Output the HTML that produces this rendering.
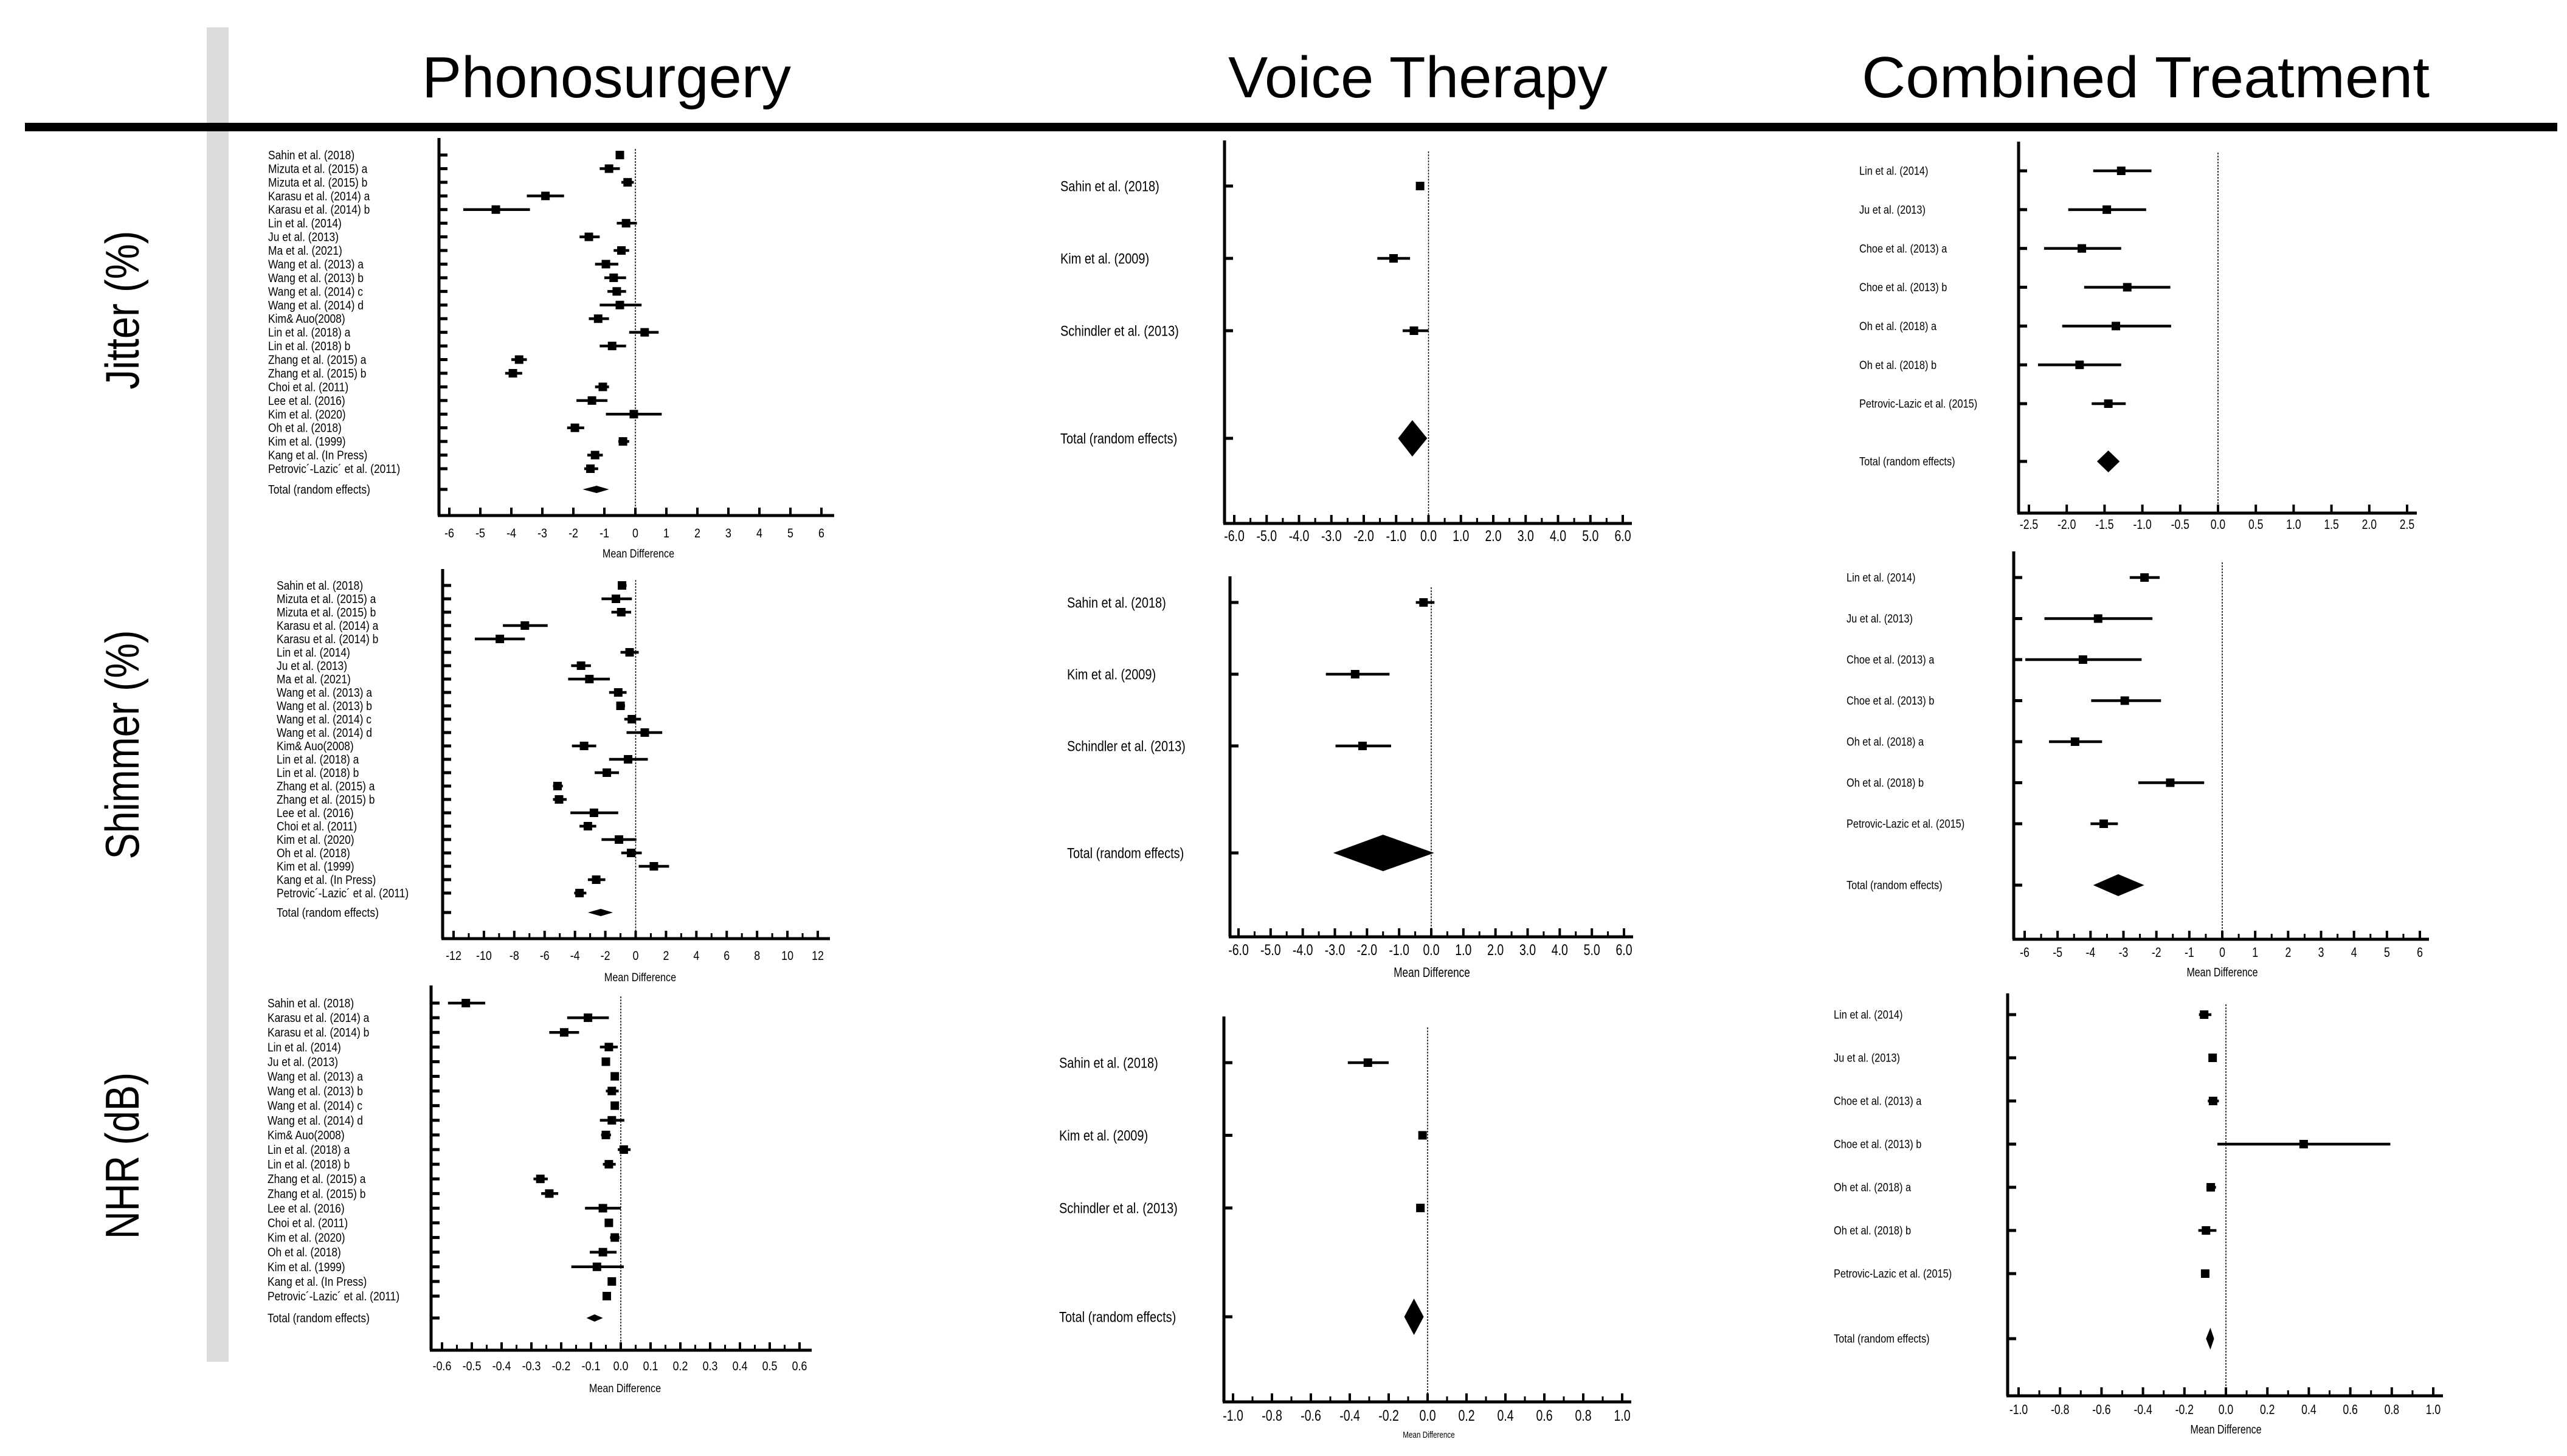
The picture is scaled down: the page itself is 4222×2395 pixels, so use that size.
<!DOCTYPE html>
<html><head><meta charset="utf-8"><style>
html,body{margin:0;padding:0;background:#fff;}
svg{display:block;}
</style></head><body>
<svg id="fig" width="4222" height="2395" viewBox="0 0 4222 2395" xmlns="http://www.w3.org/2000/svg" font-family="'Liberation Sans', sans-serif">
<rect x="340" y="45" width="36" height="2195" fill="#dcdcdc"/>
<rect x="41" y="202" width="4165" height="14" fill="#000"/>
<text x="694" y="160" font-size="96" textLength="607" lengthAdjust="spacingAndGlyphs">Phonosurgery</text>
<text x="2020" y="160" font-size="96" textLength="624" lengthAdjust="spacingAndGlyphs">Voice Therapy</text>
<text x="3062" y="160" font-size="96" textLength="934" lengthAdjust="spacingAndGlyphs">Combined Treatment</text>
<text transform="translate(228,510) rotate(-90)" text-anchor="middle" font-size="78" textLength="261" lengthAdjust="spacingAndGlyphs">Jitter (%)</text>
<text transform="translate(228,1225) rotate(-90)" text-anchor="middle" font-size="78" textLength="377" lengthAdjust="spacingAndGlyphs">Shimmer (%)</text>
<text transform="translate(228,1901) rotate(-90)" text-anchor="middle" font-size="78" textLength="274" lengthAdjust="spacingAndGlyphs">NHR (dB)</text>
<g id="panels"></g>
</svg>
<script>
// ---------- Data ----------
const phonoLabelsA = ["Sahin et al. (2018)","Mizuta et al. (2015) a","Mizuta et al. (2015) b","Karasu et al. (2014) a","Karasu et al. (2014) b","Lin et al. (2014)","Ju et al. (2013)","Ma et al. (2021)","Wang et al. (2013) a","Wang et al. (2013) b","Wang et al. (2014) c","Wang et al. (2014) d","Kim& Auo(2008)","Lin et al. (2018) a","Lin et al. (2018) b","Zhang et al. (2015) a","Zhang et al. (2015) b","Choi et al. (2011)","Lee et al. (2016)","Kim et al. (2020)","Oh et al. (2018)","Kim et al. (1999)","Kang et al. (In Press)","Petrovic\u00B4-Lazic\u00B4 et al. (2011)"];
const pjMean = [-0.5,-0.85,-0.25,-2.9,-4.5,-0.3,-1.5,-0.45,-0.95,-0.7,-0.6,-0.5,-1.2,0.3,-0.75,-3.75,-3.95,-1.05,-1.4,-0.05,-1.95,-0.4,-1.3,-1.45];
const pjLow  = [-0.6,-1.15,-0.45,-3.5,-5.55,-0.6,-1.8,-0.7,-1.3,-1.0,-0.9,-1.15,-1.5,-0.2,-1.15,-4.0,-4.2,-1.3,-1.9,-0.95,-2.2,-0.55,-1.55,-1.65];
const pjHigh = [-0.4,-0.5,-0.05,-2.3,-3.4,0.05,-1.15,-0.2,-0.55,-0.3,-0.3,0.2,-0.85,0.75,-0.3,-3.5,-3.65,-0.85,-0.9,0.85,-1.65,-0.2,-1.05,-1.2];
const pjTotal = [-1.25,-1.7,-0.85];
const pjTicks = [-6,-5,-4,-3,-2,-1,0,1,2,3,4,5,6];

const phonoLabelsS = ["Sahin et al. (2018)","Mizuta et al. (2015) a","Mizuta et al. (2015) b","Karasu et al. (2014) a","Karasu et al. (2014) b","Lin et al. (2014)","Ju et al. (2013)","Ma et al. (2021)","Wang et al. (2013) a","Wang et al. (2013) b","Wang et al. (2014) c","Wang et al. (2014) d","Kim& Auo(2008)","Lin et al. (2018) a","Lin et al. (2018) b","Zhang et al. (2015) a","Zhang et al. (2015) b","Lee et al. (2016)","Choi et al. (2011)","Kim et al. (2020)","Oh et al. (2018)","Kim et al. (1999)","Kang et al. (In Press)","Petrovic\u00B4-Lazic\u00B4 et al. (2011)"];
const psMean = [-0.9,-1.3,-0.95,-7.3,-8.95,-0.4,-3.6,-3.05,-1.15,-1.0,-0.25,0.6,-3.4,-0.5,-1.9,-5.15,-5.05,-2.75,-3.15,-1.1,-0.3,1.2,-2.6,-3.7];
const psLow  = [-1.1,-2.25,-1.6,-8.75,-10.6,-1.0,-4.25,-4.45,-1.75,-1.25,-0.75,-0.6,-4.2,-1.75,-2.7,-5.45,-5.45,-4.3,-3.7,-2.25,-0.95,0.2,-3.15,-4.05];
const psHigh = [-0.6,-0.25,-0.3,-5.8,-7.3,0.2,-2.95,-1.7,-0.6,-0.7,0.35,1.75,-2.6,0.8,-1.1,-4.8,-4.55,-1.15,-2.6,0.05,0.4,2.2,-2.0,-3.25];
const psTotal = [-2.3,-3.15,-1.5];
const psTicks = [-12,-10,-8,-6,-4,-2,0,2,4,6,8,10,12];

const phonoLabelsN = ["Sahin et al. (2018)","Karasu et al. (2014) a","Karasu et al. (2014) b","Lin et al. (2014)","Ju et al. (2013)","Wang et al. (2013) a","Wang et al. (2013) b","Wang et al. (2014) c","Wang et al. (2014) d","Kim& Auo(2008)","Lin et al. (2018) a","Lin et al. (2018) b","Zhang et al. (2015) a","Zhang et al. (2015) b","Lee et al. (2016)","Choi et al. (2011)","Kim et al. (2020)","Oh et al. (2018)","Kim et al. (1999)","Kang et al. (In Press)","Petrovic\u00B4-Lazic\u00B4 et al. (2011)"];
const pnMean = [-0.52,-0.11,-0.19,-0.04,-0.05,-0.02,-0.03,-0.02,-0.03,-0.05,0.01,-0.04,-0.27,-0.24,-0.06,-0.04,-0.02,-0.06,-0.08,-0.03,-0.047];
const pnLow  = [-0.58,-0.18,-0.24,-0.07,-0.06,-0.033,-0.05,-0.03,-0.07,-0.066,-0.01,-0.06,-0.293,-0.267,-0.12,-0.05,-0.036,-0.104,-0.166,-0.04,-0.057];
const pnHigh = [-0.455,-0.04,-0.14,-0.01,-0.04,-0.007,-0.007,-0.01,0.012,-0.033,0.033,-0.017,-0.245,-0.21,0.0,-0.03,-0.004,-0.014,0.01,-0.02,-0.037];
const pnTotal = [-0.088,-0.115,-0.06];
const pnTicks = [-0.6,-0.5,-0.4,-0.3,-0.2,-0.1,0.0,0.1,0.2,0.3,0.4,0.5,0.6];

const vtLabels = ["Sahin et al. (2018)","Kim et al. (2009)","Schindler et al. (2013)"];
const vjMean = [-0.26,-1.08,-0.45];
const vjLow  = [-0.32,-1.58,-0.8];
const vjHigh = [-0.2,-0.57,0.0];
const vjTotal = [-0.5,-0.94,-0.04];
const vsMean = [-0.24,-2.37,-2.14];
const vsLow  = [-0.48,-3.28,-2.98];
const vsHigh = [0.1,-1.3,-1.25];
const vsTotal = [-1.5,-3.05,0.09];
const vTicks6 = [-6,-5,-4,-3,-2,-1,0,1,2,3,4,5,6];
const vnMean = [-0.307,-0.026,-0.037];
const vnLow  = [-0.41,-0.04,-0.05];
const vnHigh = [-0.2,-0.012,-0.024];
const vnTotal = [-0.07,-0.12,-0.02];
const vnTicks = [-1.0,-0.8,-0.6,-0.4,-0.2,0.0,0.2,0.4,0.6,0.8,1.0];

const ctLabels = ["Lin et al. (2014)","Ju et al. (2013)","Choe et al. (2013) a","Choe et al. (2013) b","Oh et al. (2018) a","Oh et al. (2018) b","Petrovic-Lazic et al. (2015)"];
const cjMean = [-1.28,-1.47,-1.80,-1.2,-1.35,-1.83,-1.45];
const cjLow  = [-1.65,-1.98,-2.3,-1.77,-2.06,-2.38,-1.67];
const cjHigh = [-0.88,-0.95,-1.28,-0.63,-0.62,-1.28,-1.22];
const cjTotal = [-1.45,-1.6,-1.3];
const cjTicks = [-2.5,-2.0,-1.5,-1.0,-0.5,0.0,0.5,1.0,1.5,2.0,2.5];
const csMean = [-2.36,-3.77,-4.23,-2.96,-4.47,-1.58,-3.6];
const csLow  = [-2.81,-5.4,-5.98,-3.98,-5.26,-2.55,-4.0];
const csHigh = [-1.9,-2.12,-2.45,-1.86,-3.65,-0.55,-3.17];
const csTotal = [-3.16,-3.92,-2.37];
const csTicks = [-6,-5,-4,-3,-2,-1,0,1,2,3,4,5,6];
const cnMean = [-0.105,-0.064,-0.062,0.375,-0.073,-0.096,-0.1];
const cnLow  = [-0.13,-0.075,-0.087,-0.041,-0.094,-0.133,-0.11];
const cnHigh = [-0.07,-0.053,-0.034,0.793,-0.048,-0.046,-0.09];
const cnTotal = [-0.075,-0.096,-0.057];
const cnTicks = [-1.0,-0.8,-0.6,-0.4,-0.2,0.0,0.2,0.4,0.6,0.8,1.0];

// ---------- Layout ----------
const NS = "http://www.w3.org/2000/svg";
const root = document.getElementById('panels');
function mk(tag, attrs, parent){ const e=document.createElementNS(NS,tag); for(const k in attrs) e.setAttribute(k,attrs[k]); (parent||root).appendChild(e); return e; }

function panel(cfg){
  const g = mk('g',{});
  
  
  const xs = v => cfg.x0 + (v - cfg.d0) / (cfg.d1 - cfg.d0) * (cfg.x1 - cfg.x0);
  const n = cfg.labels.length;
  const ys = i => cfg.yFirst + (n>1 ? i*(cfg.yLast-cfg.yFirst)/(n-1) : 0);
  // axes
  const ya = mk('line',{x1:cfg.ax,y1:cfg.top,x2:cfg.ax,y2:cfg.bottom,stroke:'#000','stroke-width':5},g);
  
  
  const xa = mk('line',{x1:cfg.ax-2,y1:cfg.bottom,x2:cfg.axEnd,y2:cfg.bottom,stroke:'#000','stroke-width':5},g);
  
  
  const z = mk('line',{x1:xs(0),y1:cfg.top+18,x2:xs(0),y2:cfg.bottom,stroke:'#000','stroke-width':1.5,'stroke-dasharray':'3,2'},g);
  
  
  // minor ticks
  if(cfg.minor){
    const t0=cfg.ticks[0], t1=cfg.ticks[cfg.ticks.length-1];
    for(let v=t0; v<=t1+1e-9; v+=cfg.minor){
      const t = mk('line',{x1:xs(v),y1:cfg.bottom,x2:xs(v),y2:cfg.bottom-9,stroke:'#000','stroke-width':3},g);
      
      
    }
  }
  cfg.ticks.forEach(v=>{
    const t = mk('line',{x1:xs(v),y1:cfg.bottom,x2:xs(v),y2:cfg.bottom-cfg.tickLen,stroke:'#000','stroke-width':4},g);
    
    
    const s = cfg.dec!==undefined ? v.toFixed(cfg.dec) : String(v);
    const lb = mk('text',{x:0,y:0,'font-size':cfg.tickFont,'text-anchor':'middle',transform:`translate(${xs(v)},${cfg.tickY}) scale(${cfg.tickSx},1)`},g);
    lb.textContent = s;
    
    
  });
  if(cfg.mdY){
    const md = mk('text',{x:0,y:0,'font-size':cfg.mdFont,'text-anchor':'middle',transform:`translate(${cfg.mdX},${cfg.mdY}) scale(${cfg.tickSx},1)`},g);
    md.textContent = 'Mean Difference';
    
    
  }
  const rows = cfg.labels.concat(['Total (random effects)']);
  const rowY = i => i<n ? ys(i) : cfg.yTotal;
  rows.forEach((lab,i)=>{
    const y = rowY(i);
    const rt = mk('line',{x1:cfg.ax,y1:y,x2:cfg.ax+14,y2:y,stroke:'#000','stroke-width':5},g);
    
    
    const t = mk('text',{x:0,y:0,'font-size':cfg.labFont,transform:`translate(${cfg.labX},${y+cfg.labFont*0.35}) scale(${cfg.labSx},1)`},g);
    t.textContent = lab;
    
    
  });
  for(let i=0;i<n;i++){
    const y = ys(i);
    const ci = mk('line',{x1:xs(cfg.lo[i]),y1:y,x2:xs(cfg.hi[i]),y2:y,stroke:'#000','stroke-width':4.5},g);
    
    
    const sq = mk('rect',{x:xs(cfg.mean[i])-7,y:y-7,width:14,height:14,fill:'#000'},g);
    
    
  }
  const [m,l,h] = cfg.total;
  const yt = cfg.yTotal, hh = cfg.dh;
  const d = mk('polygon',{points:`${xs(l)},${yt} ${xs(m)},${yt-hh} ${xs(h)},${yt} ${xs(m)},${yt+hh}`,fill:'#000'},g);
  
  
}

const phonoBase = {labFont:20,labSx:0.87,tickFont:21,tickSx:0.85,tickLen:13,mdFont:19,dh:6};
panel(Object.assign({},phonoBase,{name:'phonosurgery-jitter-panel',labels:phonoLabelsA,mean:pjMean,lo:pjLow,hi:pjHigh,total:pjTotal,ticks:pjTicks,
  ax:722,axEnd:1372,top:227,bottom:848,x0:739,x1:1351,d0:-6,d1:6,yFirst:255,yLast:771,yTotal:805,labX:441,tickY:884,mdX:1050,mdY:917}));
panel(Object.assign({},phonoBase,{name:'phonosurgery-shimmer-panel',labels:phonoLabelsS,mean:psMean,lo:psLow,hi:psHigh,total:psTotal,ticks:psTicks,minor:1,
  ax:728,axEnd:1365,top:936,bottom:1544,x0:746,x1:1345,d0:-12,d1:12,yFirst:963,yLast:1469,yTotal:1501,labX:455,tickY:1579,mdX:1053,mdY:1614}));
panel(Object.assign({},phonoBase,{name:'phonosurgery-nhr-panel',labels:phonoLabelsN,mean:pnMean,lo:pnLow,hi:pnHigh,total:pnTotal,ticks:pnTicks,minor:0.05,dec:1,
  ax:709,axEnd:1335,top:1621,bottom:2221,x0:727,x1:1315,d0:-0.6,d1:0.6,yFirst:1650,yLast:2132,yTotal:2168,labX:440,tickY:2254,mdX:1028,mdY:2290}));

const vtBase = {labFont:24,labSx:0.83,tickFont:25,tickSx:0.78,tickLen:14,mdFont:22,dh:30};
panel(Object.assign({},vtBase,{name:'voice-therapy-jitter-panel',labels:vtLabels,mean:vjMean,lo:vjLow,hi:vjHigh,total:vjTotal,ticks:vTicks6,minor:0.5,dec:1,
  ax:2014,axEnd:2684,top:231,bottom:861,x0:2030,x1:2669,d0:-6,d1:6,yFirst:306,yLast:544,yTotal:721,labX:1744,tickY:890}));
panel(Object.assign({},vtBase,{name:'voice-therapy-shimmer-panel',labels:vtLabels,mean:vsMean,lo:vsLow,hi:vsHigh,total:vsTotal,ticks:vTicks6,minor:0.5,dec:1,
  ax:2023,axEnd:2686,top:948,bottom:1541,x0:2037,x1:2671,d0:-6,d1:6,yFirst:991,yLast:1227,yTotal:1403,labX:1755,tickY:1571,mdX:2355,mdY:1607}));
panel(Object.assign({},vtBase,{name:'voice-therapy-nhr-panel',labels:vtLabels,mean:vnMean,lo:vnLow,hi:vnHigh,total:vnTotal,ticks:vnTicks,minor:0.1,dec:1,
  ax:2013,axEnd:2683,top:1672,bottom:2306,x0:2028,x1:2668,d0:-1,d1:1,yFirst:1748,yLast:1987,yTotal:2166,labX:1742,tickY:2337,mdX:2350,mdY:2365,mdFont:15}));

const ctBase = {labFont:19,labSx:0.86,tickFont:22,tickSx:0.8,tickLen:14,mdFont:20,dh:18};
panel(Object.assign({},ctBase,{name:'combined-jitter-panel',labels:ctLabels,mean:cjMean,lo:cjLow,hi:cjHigh,total:cjTotal,ticks:cjTicks,dec:1,
  ax:3320,axEnd:3975,top:233,bottom:844,x0:3337,x1:3959,d0:-2.5,d1:2.5,yFirst:281,yLast:664,yTotal:759,labX:3058,tickY:870}));
panel(Object.assign({},ctBase,{name:'combined-shimmer-panel',labels:ctLabels,mean:csMean,lo:csLow,hi:csHigh,total:csTotal,ticks:csTicks,minor:0.5,
  ax:3312,axEnd:3995,top:907,bottom:1545,x0:3330,x1:3980,d0:-6,d1:6,yFirst:950,yLast:1355,yTotal:1456,labX:3037,tickY:1574,mdX:3655,mdY:1606}));
panel(Object.assign({},ctBase,{name:'combined-nhr-panel',labels:ctLabels,mean:cnMean,lo:cnLow,hi:cnHigh,total:cnTotal,ticks:cnTicks,minor:0.1,dec:1,
  ax:3302,axEnd:4018,top:1634,bottom:2296,x0:3320,x1:4002,d0:-1,d1:1,yFirst:1669,yLast:2095,yTotal:2202,labX:3016,tickY:2326,mdX:3661,mdY:2358}));
</script>
</body></html>
